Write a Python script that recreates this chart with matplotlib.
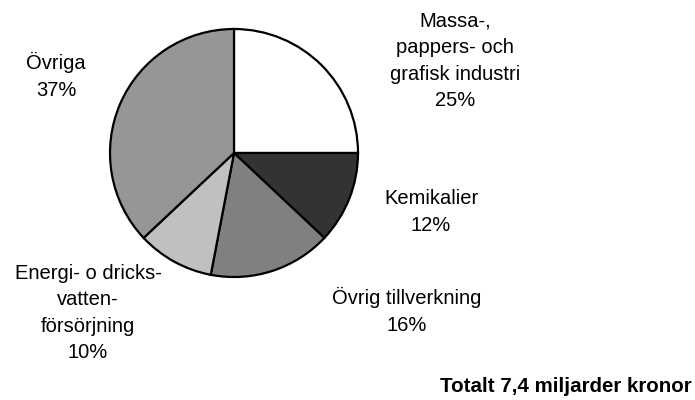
# Cirkeldiagram: fördelning per bransch

import matplotlib.pyplot as plt

plt.rcParams['font.family'] = ['Liberation Sans', 'DejaVu Sans']

branscher = ['Massa-,\npappers- och\ngrafisk industri', 'Kemikalier',
             'Övrig tillverkning', 'Energi- o dricks-\nvatten-\nförsörjning',
             'Övriga']
andelar = [25, 12, 16, 10, 37]
farger = ['#ffffff', '#333333', '#808080', '#c0c0c0', '#969696']

# Etiketternas placering i pixlar (x, y uppifrån)
etikett_pos = [(455, 61), (431, 212), (407, 311), (88, 313), (56, 76)]

fig = plt.figure(figsize=(6.95, 4), dpi=100)
ax = fig.add_axes([0, 0, 1, 1])

ax.pie(andelar, colors=farger, startangle=90, counterclock=False,
       center=(234, 400 - 153), radius=124, frame=True,
       wedgeprops={'edgecolor': 'black', 'linewidth': 1.6})
ax.set_xlim(0, 695)
ax.set_ylim(0, 400)
ax.set_aspect('equal')
ax.axis('off')

for namn, andel, (x, y) in zip(branscher, andelar, etikett_pos):
    ax.text(x, 400 - y, f'{namn}\n{andel}%', ha='center', va='center',
            fontsize=14.5, linespacing=1.5)

ax.text(692, 400 - 387, 'Totalt 7,4 miljarder kronor', ha='right',
        va='center', fontsize=14.8, fontweight='bold')

plt.savefig('out.png', dpi=100)
